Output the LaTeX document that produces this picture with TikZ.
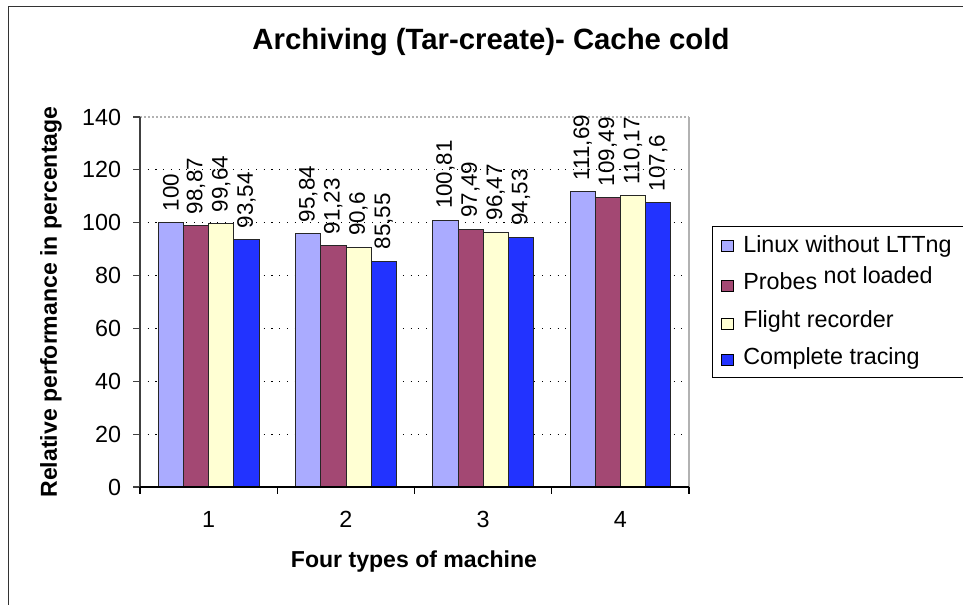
\documentclass[tikz,border=0pt]{standalone}
\usepackage{fontspec}
\setmainfont{Liberation Sans}

\definecolor{linuxc}{RGB}{170,171,255}
\definecolor{probec}{RGB}{163,72,115}
\definecolor{flightc}{RGB}{255,255,211}
\definecolor{tracec}{RGB}{34,51,255}

\begin{document}
\begin{tikzpicture}[x=0.75pt,y=0.75pt,
    bar/.style={draw=black!85,line width=0.6pt},
    datalab/.style={rotate=90,anchor=west,inner sep=0pt,font=\fontsize{16.8}{17}\selectfont},
    ticklab/.style={inner sep=0pt,font=\fontsize{17.5}{18}\selectfont},
    axtitle/.style={font=\bfseries\fontsize{17.3}{18}\selectfont},
    gridline/.style={line width=0.8pt,dash pattern=on 0.8pt off 5pt},
    legsq/.style={draw=black,line width=0.6pt,minimum size=8.6pt,inner sep=0pt},
    legtext/.style={anchor=base west,inner sep=0pt,font=\fontsize{17.5}{18}\selectfont}]
  \useasboundingbox (0,0) rectangle (963,605);

  % frame of the chart
  \draw[black!80,line width=1.4pt] (8.5,0) -- (8.5,598.5) -- (963,598.5);

  \node[font=\bfseries\fontsize{22}{23}\selectfont] (title) at (491,563) {Archiving (Tar-create)- Cache cold};
  \node[axtitle,rotate=90] (ytitle) at (51,303) {Relative performance in percentage};
  \node[axtitle] (xtitle) at (414,43) {Four types of machine};

  \begin{scope}[shift={(140,118)},x=102.94pt,y=1.982pt]
    \foreach \v in {20,40,...,120}
      \draw[gridline] (0,\v) -- (4,\v);
    \draw[gray!60,line width=0.8pt,dash pattern=on 1.5pt off 1.5pt] (0,140) -- (4,140);
    \draw[gray!60,line width=0.8pt] (4,140) -- (4,0);

    \foreach \i/\j/\col/\v/\t in {
        1/0/linuxc/100/100, 1/1/probec/98.87/{98,87}, 1/2/flightc/99.64/{99,64}, 1/3/tracec/93.54/{93,54},
        2/0/linuxc/95.84/{95,84}, 2/1/probec/91.23/{91,23}, 2/2/flightc/90.6/{90,6}, 2/3/tracec/85.55/{85,55},
        3/0/linuxc/100.81/{100,81}, 3/1/probec/97.49/{97,49}, 3/2/flightc/96.47/{96,47}, 3/3/tracec/94.53/{94,53},
        4/0/linuxc/111.69/{111,69}, 4/1/probec/109.49/{109,49}, 4/2/flightc/110.17/{110,17}, 4/3/tracec/107.6/{107,6}} {
      \draw[bar,fill=\col] ({\i-0.867+\j*0.1836},0) rectangle ++(0.1836,\v);
      \path ({\i-0.775+\j*0.1836},\v) ++(0,8.5pt) node[datalab] (lab\i\j) {\t};
    }

    % axes
    \draw[black!75,line width=0.8pt] (0,0) -- (0,140);
    \foreach \v in {0,20,...,140} {
      \draw[black!75,line width=0.8pt] (0,\v) -- ++(-5pt,0);
      \path (0,\v) ++(-14pt,0) node[ticklab,anchor=east] (y\v) {\v};
    }
    \draw[line width=0.8pt] (0,0) -- (4,0);
    \foreach \i in {0,...,4}
      \draw[line width=0.8pt] (\i,0) -- ++(0,-5pt);
    \foreach \i in {1,...,4}
      \path (\i-0.5,0) ++(0,-24.5pt) node[ticklab] (c\i) {\i};
  \end{scope}

  % legend
  \node[draw,line width=0.8pt,anchor=north west,minimum width=205pt,minimum height=113pt] (leg) at (712,379) {};
  \node[legsq,fill=linuxc] (sq1) at (727.5,359) {};
  \node[legsq,fill=probec] (sq2) at (727.5,319) {};
  \node[legsq,fill=flightc] (sq3) at (727.5,281) {};
  \node[legsq,fill=tracec] (sq4) at (727.5,245) {};
  \node[legtext] (t1) at (743,352) {Linux without LTTng};
  \node[legtext] (t2) at (743,315) {Probes \raisebox{5pt}{not loaded}};
  \node[legtext] (t3) at (743,277) {Flight recorder};
  \node[legtext] (t4) at (743,240) {Complete tracing};
\end{tikzpicture}
\end{document}
